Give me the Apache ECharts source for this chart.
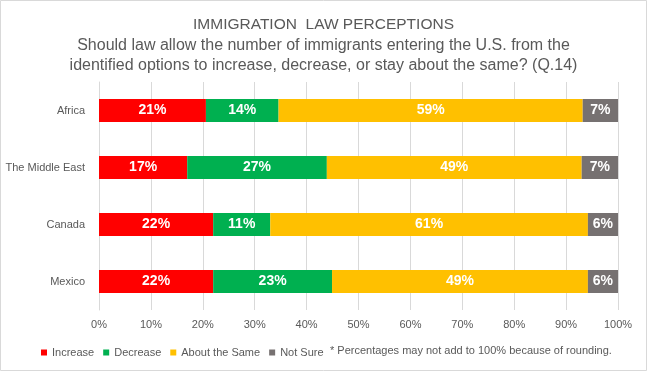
<!DOCTYPE html>
<html><head><meta charset="utf-8">
<script src="https://cdn.jsdelivr.net/npm/echarts@6/dist/echarts.min.js"></script>
<style>html,body{margin:0;padding:0;background:#fff}#c{width:647px;height:371px}</style>
</head><body><div id="c"></div>
<script>
const categories = ['Africa', 'The Middle East', 'Canada', 'Mexico'];
const increase = [20.6, 17.0, 22.0, 22.0];
const decrease = [14.0, 26.9, 11.0, 22.9];
const aboutSame = [58.6, 49.1, 61.2, 49.3];
const notSure = [6.8, 7.0, 5.8, 5.8];
const seriesNames = ['Increase', 'Decrease', 'About the Same', 'Not Sure'];
const colors = ['#ff0000', '#00b050', '#ffc000', '#767171'];
const xTicks = [0, 10, 20, 30, 40, 50, 60, 70, 80, 90, 100];

const chart = echarts.init(document.getElementById('c'));
const font = '"Liberation Sans", Arial, sans-serif';
const mk = (name, data, i) => ({
  name, type: 'bar', stack: 'total', data, barWidth: 23,
  itemStyle: { color: colors[i] },
  label: { show: true, position: 'inside', color: '#fff', fontWeight: 'bold', fontSize: 14,
    fontFamily: font,
    formatter: p => Math.round(p.value) + '%' }
});
chart.setOption({
  animation: false,
  backgroundColor: '#fff',
  title: {
    text: 'IMMIGRATION  LAW PERCEPTIONS',
    subtext: 'Should law allow the number of immigrants entering the U.S. from the\nidentified options to increase, decrease, or stay about the same? (Q.14)',
    left: 323.5, top: 16, itemGap: 3, padding: 0,
    textAlign: 'center',
    textStyle: { fontSize: 15.5, fontWeight: 'normal', color: '#595959', lineHeight: 17, fontFamily: font },
    subtextStyle: { fontSize: 16, color: '#595959', lineHeight: 20, fontFamily: font, align: 'center' }
  },
  grid: { left: 99, right: 29, top: 82, bottom: 61, containLabel: false },
  xAxis: {
    type: 'value', min: 0, max: 100, interval: 10,
    axisLabel: { formatter: v => xTicks.includes(v) ? v + '%' : '', color: '#595959', fontSize: 11, margin: 9,
      fontFamily: font },
    splitLine: { show: true, lineStyle: { color: '#d9d9d9' } },
    axisLine: { show: false }, axisTick: { show: false }
  },
  yAxis: {
    type: 'category', data: categories, inverse: true,
    axisLabel: { color: '#595959', fontSize: 11, margin: 14, fontFamily: font },
    axisLine: { show: true, lineStyle: { color: '#d9d9d9' } }, axisTick: { show: false }
  },
  legend: {
    data: seriesNames, left: 36, top: 342, itemWidth: 6, itemHeight: 6, itemGap: 9,
    icon: 'rect',
    textStyle: { color: '#595959', fontSize: 11, fontFamily: font }
  },
  graphic: [
    { type: 'rect', shape: { x: 0.5, y: 0.5, width: 646, height: 370 }, style: { fill: 'none', stroke: '#d9d9d9', lineWidth: 1 }, silent: true },
    { type: 'text', left: 330, top: 345, style: { text: '* Percentages may not add to 100% because of rounding.', fill: '#595959', fontSize: 11, fontFamily: font } }
  ],
  series: [mk(seriesNames[0], increase, 0), mk(seriesNames[1], decrease, 1), mk(seriesNames[2], aboutSame, 2), mk(seriesNames[3], notSure, 3)]
});
</script></body></html>
